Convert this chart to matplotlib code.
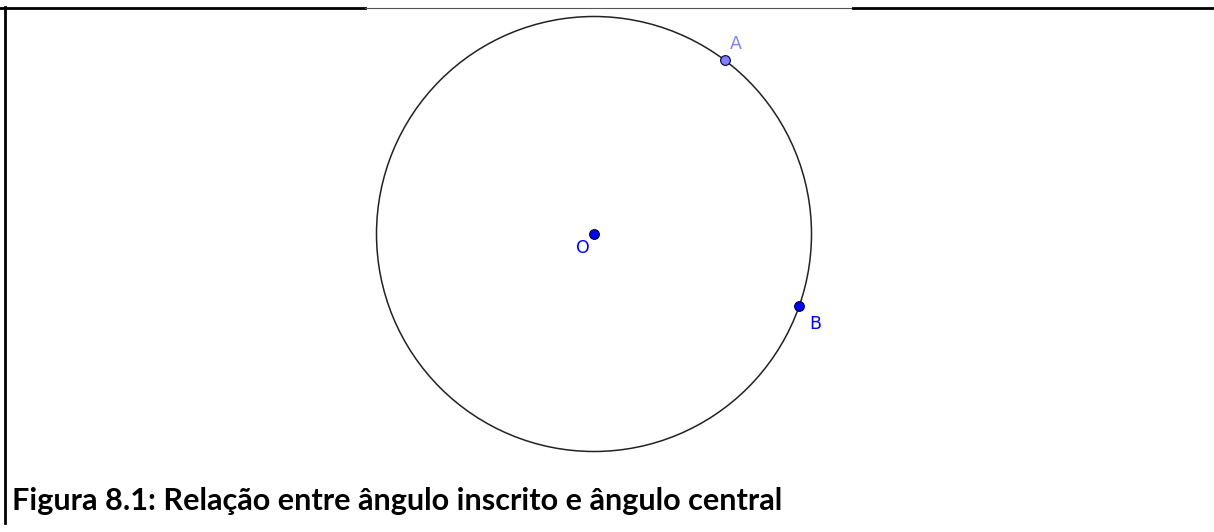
import numpy as np
import matplotlib
matplotlib.use("Agg")
import matplotlib.pyplot as plt
from matplotlib.lines import Line2D
from matplotlib.patches import Circle

# Geometry (circle of radius 1 centred on O, points given by angle in degrees)
center = (0.0, 0.0)
radius = 1.0
point_names = ["A", "B"]
point_angles = [53.0, -19.4]
point_colors = ["#7f7fff", "#0000ff"]
label_offsets = [(11, 16), (16, -18)]  # pixels
caption = "Figura 8.1: Relação entre ângulo inscrito e ângulo central"

W, H, DPI = 1214, 532, 100
fig = plt.figure(figsize=(W / DPI, H / DPI), dpi=DPI)
ax = fig.add_axes([0, 0, 1, 1])
ax.set_axis_off()

# map so that 1 unit = 217.5 px, centre at pixel (594, 234)
scale = 217.5
cx_px, cy_px = 594, 234
ax.set_xlim(-cx_px / scale, (W - cx_px) / scale)
ax.set_ylim(-(H - cy_px) / scale, cy_px / scale)
ax.set_aspect("equal", adjustable="datalim")

ax.add_patch(Circle(center, radius, fill=False, edgecolor="#222222", linewidth=1.1))

# centre point O
ax.plot(center[0], center[1], "o", ms=7, mfc="#0000ff", mec="#000033", mew=0.8)
ax.annotate("O", center, xytext=(-11, -14), textcoords="offset pixels",
            ha="center", va="center", color="#0000ff", fontsize=12.5,
            family="DejaVu Sans")

for name, ang, col, off in zip(point_names, point_angles, point_colors, label_offsets):
    t = np.deg2rad(ang)
    px, py = center[0] + radius * np.cos(t), center[1] + radius * np.sin(t)
    ax.plot(px, py, "o", ms=7, mfc=col, mec="#000033", mew=0.8)
    lab_col = "#8080ff" if name == "A" else "#0000ff"
    ax.annotate(name, (px, py), xytext=off, textcoords="offset pixels",
                ha="center", va="center", color=lab_col, fontsize=12.5,
                family="DejaVu Sans")

# frame lines of the page (figure pixel coords)
def px_line(x0, y0, x1, y1, **kw):
    fig.add_artist(Line2D([x0 / W, x1 / W], [1 - y0 / H, 1 - y1 / H],
                          transform=fig.transFigure, **kw))

px_line(0, 7.5, 365, 7.5, color="black", lw=2.0)
px_line(365, 7.5, 853, 7.5, color="#555555", lw=0.8)
px_line(853, 7.5, W, 7.5, color="black", lw=2.0)
px_line(5, 6.5, 5, 523, color="black", lw=2.0)

cap = fig.text(12 / W, 1 - 501 / H, caption, ha="left", va="center",
               fontsize=15, fontweight="bold", family="Lato", color="black")
# fit caption width to ~776 px like the reference
fig.canvas.draw()
w = cap.get_window_extent().width
cap.set_fontsize(15 * 776 / w)

fig.savefig("out.png", dpi=DPI)
